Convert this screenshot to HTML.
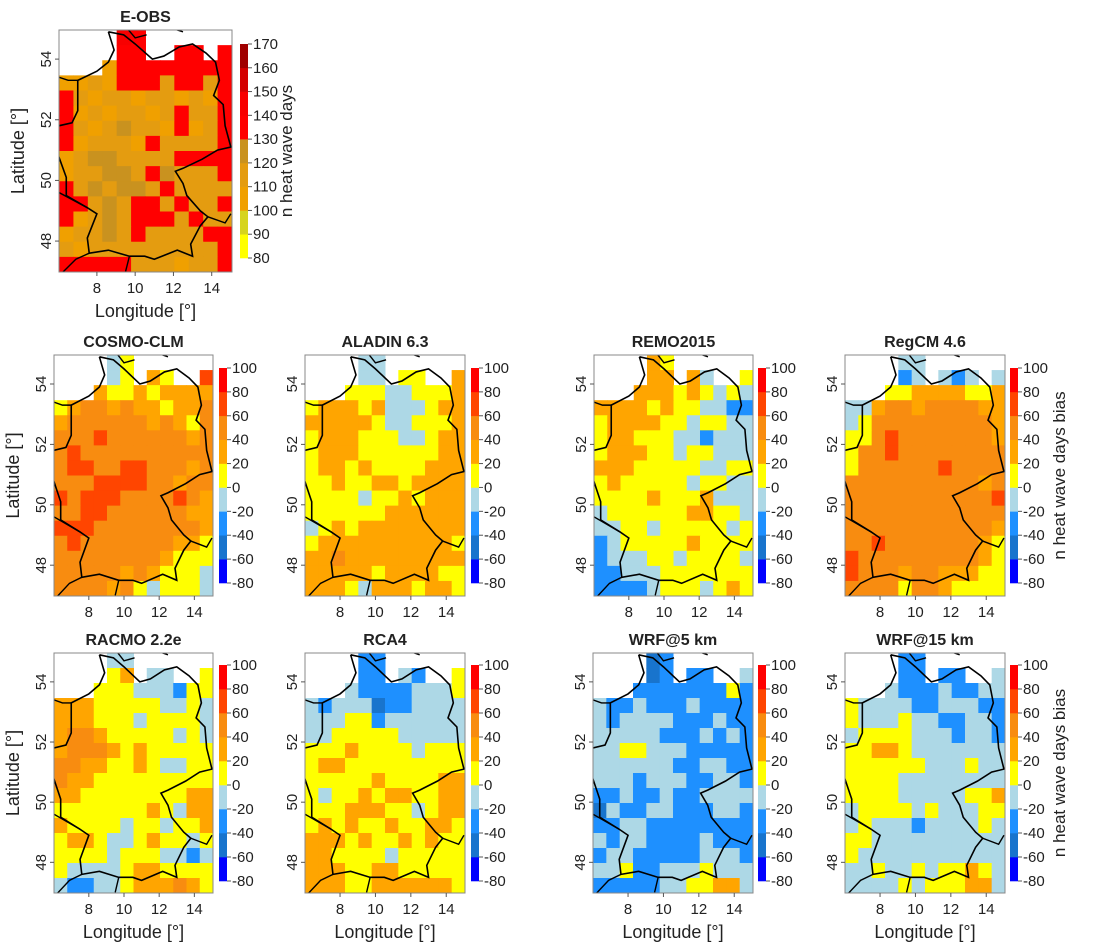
<!DOCTYPE html>
<html><head><meta charset="utf-8"><style>
body{margin:0;background:#fff;width:1116px;height:952px;overflow:hidden}
svg{display:block}
text{font-family:"Liberation Sans",sans-serif;fill:#222}
</style></head><body>
<svg id="fig" width="1116" height="952" xmlns="http://www.w3.org/2000/svg"></svg>
<script>
// Data: each string = one row of cells (north→south), 12 cols west→east; digits are bin classes, W = no data
const eobsRows=["WWWW65WWWWWW","WWWW55WW55W5","WWW255555555","223255535535","532332332325","523233235335","532343325235","523332533335","234433335555","233443543335","534344353333","553435535335","523435553533","233435333355","323333333335","555553332335"];
const cosmoRows=["WWWW34WWWWWW","WWWW34W54WW7","WWW544545555","456656554556","566666656546","666766666656","676666666666","677667766656","666777766566","767776666765","667766666655","777666666665","676666666554","666666665444","666665654443","666656434443"];
const aladinRows=["WWWW33WWWWWW","WWWW33W44WW5","WWW444334445","455545333455","555554334445","455544433455","455544444455","455454444555","445445545555","444434454555","444444555555","345455555555","455555555554","556555555555","555554555544","555435554554"];
const remoRows=["WWWW54WWWWWW","WWWW55W53WW4","WWW555454343","555545443322","455554434433","455444332333","455544344333","555444443344","454444434433","444454445333","344444455443","334434444434","234444454444","233344344443","223334444444","222234443454"];
const regcmRows=["WWWW33WWWWWW","WWWW23W323W3","WWW445555445","335665666655","346666666665","446766666665","466766666666","466666676666","666666666656","666666666667","666666666666","666666666665","667666666654","766666666654","766656655544","666646654444"];
const racmoRows=["WWWW33WWWWWW","WWWW45W33WW4","WWW444333244","555444443343","555444344443","566544444343","566654544444","665544543344","655444444444","554444444455","444444454355","544443443445","455433454434","444434443323","433334554444","322334555654"];
const rca4Rows=["WWWW22WWWWWW","WWWW22W32WW4","WWW322223334","323331223333","333442333333","334444433333","444544443444","455444444444","444445444455","434454554455","444555443455","454544544554","555454454544","554444344444","555445544444","555445555554"];
const wrf5Rows=["WWWW12WWWWWW","WWWW12W22WW3","WWW222222242","322322232222","323333222322","333332223232","334433322222","333333223322","333233322332","223223223333","132233222332","223322222222","323322223222","233222223332","334223334333","222223344553"];
const wrf15Rows=["WWWW22WWWWWW","WWWW22W22WW3","WWW322232233","433332233322","433343322332","344443332332","445543333333","444444333433","444433333333","444433333445","344443433344","343332333343","443333333333","433333333333","334334344543","333343444553"];
const eobsTicks=[80,90,100,110,120,130,140,150,160,170];
const biasTicks=[-80,-60,-40,-20,0,20,40,60,80,100];
const lonTicks=[8,10,12,14];
const latTicks=[48,50,52,54];
const eobsColors=['#ffff00','#d6d41e','#f0a000','#e49c10','#c9921f','#ff0000','#f80000','#d40000','#a00000'];
const biasColors=['#0000ff','#1874cd','#1e90ff','#add8e6','#ffff00','#ffa500','#f88c10','#ff4500','#ff0000'];
const outline=[[8.6,54.9],[9.4,54.8],[10.0,54.5],[10.9,54.0],[11.5,54.1],[12.3,54.4],[13.0,54.5],[13.7,54.2],[14.2,53.9],[14.4,53.3],[14.1,52.8],[14.6,52.5],[14.7,51.8],[15.0,51.1],[14.3,51.0],[13.5,50.7],[12.5,50.4],[12.1,50.3],[12.5,49.9],[12.7,49.5],[13.4,49.0],[13.8,48.8],[13.4,48.5],[12.9,47.9],[13.0,47.5],[12.2,47.7],[11.0,47.4],[10.5,47.5],[9.7,47.5],[8.6,47.7],[7.6,47.6],[7.5,48.1],[8.0,48.9],[7.5,49.1],[6.4,49.5],[6.4,50.1],[6.0,50.8],[6.0,51.8],[6.7,51.9],[7.0,52.3],[7.0,53.3],[8.0,53.6],[8.6,53.9],[8.9,54.3],[8.6,54.9]];
const extraLines=[[[7.6,47.6],[6.9,47.4],[6.1,46.9]],[[13.8,48.8],[14.7,48.6],[15.0,48.9]],[[9.7,47.5],[9.5,47.0]],[[7.5,49.1],[6.02,49.6]],[[6.02,53.4],[6.5,53.3],[7.0,53.3]],[[9.6,55.0],[10.0,54.7],[10.6,54.8]],[[12.0,55.0],[12.5,54.9]]];

const svg=document.getElementById('fig');
const NS='http://www.w3.org/2000/svg';
function mk(tag,attrs,parent,txt){const e=document.createElementNS(NS,tag);for(const k in attrs)e.setAttribute(k,attrs[k]);if(txt!==undefined)e.textContent=txt;(parent||svg).appendChild(e);return e;}
function toValues(rows,eobs){return rows.map(r=>r.split('').map(c=>c==='W'?null:(eobs?85+10*+c:-70+20*+c)));}
function colorFor(v,ticks,cols){for(let i=0;i<cols.length;i++){if(v>=ticks[i]&&v<ticks[i+1])return cols[i];}return cols[cols.length-1];}

const panels=[
 {name:'e-obs',title:'E-OBS',rows:eobsRows,eobs:true,x:59,y:30,w:173,h:242,cbx:240,cby:44,cbh:214,lat:true,lon:true,legend:'n heat wave days'},
 {name:'cosmo-clm',title:'COSMO-CLM',rows:cosmoRows,x:54,y:355,w:159,h:241,cbx:219,cby:368,cbh:215,lat:true},
 {name:'aladin',title:'ALADIN 6.3',rows:aladinRows,x:305,y:355,w:160,h:241,cbx:471,cby:368,cbh:215},
 {name:'remo2015',title:'REMO2015',rows:remoRows,x:594,y:355,w:159,h:241,cbx:758,cby:368,cbh:215},
 {name:'regcm',title:'RegCM 4.6',rows:regcmRows,x:845,y:355,w:160,h:241,cbx:1010,cby:368,cbh:215,legend:'n heat wave days  bias'},
 {name:'racmo',title:'RACMO 2.2e',rows:racmoRows,x:54,y:653,w:159,h:240,cbx:219,cby:665,cbh:216,lat:true,lon:true},
 {name:'rca4',title:'RCA4',rows:rca4Rows,x:305,y:653,w:160,h:240,cbx:471,cby:665,cbh:216,lon:true},
 {name:'wrf-5km',title:'WRF@5 km',rows:wrf5Rows,x:593,y:653,w:160,h:240,cbx:758,cby:665,cbh:216,lon:true},
 {name:'wrf-15km',title:'WRF@15 km',rows:wrf15Rows,x:845,y:653,w:160,h:240,cbx:1010,cby:665,cbh:216,lon:true,legend:'n heat wave days  bias'}
];

panels.forEach(p=>{
 const g=mk('g',{});
 
 
 const X=lon=>p.x+(lon-6.02)/9.04*p.w;
 const Y=lat=>p.y+(54.96-lat)/7.98*p.h;
 const vals=toValues(p.rows,p.eobs);
 const ticks=p.eobs?eobsTicks:biasTicks, cols=p.eobs?eobsColors:biasColors;
 const nr=vals.length, nc=vals[0].length;
 const cg=mk('g',{'clip-path':'url(#clip-'+p.name+')'},g);
 const cp=mk('clipPath',{id:'clip-'+p.name},g);mk('rect',{x:p.x,y:p.y,width:p.w,height:p.h},cp);
 vals.forEach((row,i)=>row.forEach((v,j)=>{
  if(v===null)return;
  const lon0=6.02+j*9.04/nc, lat0=54.96-i*7.98/nr;
  const r=mk('rect',{x:X(lon0).toFixed(2),y:Y(lat0).toFixed(2),width:(p.w/nc+0.5).toFixed(2),height:(p.h/nr+0.5).toFixed(2),fill:colorFor(v,ticks,cols)},cg);
  
  
 }));
 const ol=mk('polyline',{points:outline.map(q=>X(q[0])+','+Y(q[1])).join(' '),fill:'none',stroke:'#000','stroke-width':1.6},cg);
 
 
 extraLines.forEach(l=>mk('polyline',{points:l.map(q=>X(q[0])+','+Y(q[1])).join(' '),fill:'none',stroke:'#000','stroke-width':1.4},cg));
 const fr=mk('rect',{x:p.x,y:p.y,width:p.w,height:p.h,fill:'none',stroke:'#888','stroke-width':1},g);
 
 
 const t=mk('text',{x:p.x+p.w/2,y:p.y-8,'text-anchor':'middle','font-size':16,'font-weight':'bold'},g,p.title);
 
 
 lonTicks.forEach(l=>{mk('line',{x1:X(l),x2:X(l),y1:p.y+p.h,y2:p.y+p.h+4,stroke:'#555'},g);
  const tl=mk('text',{x:X(l),y:p.y+p.h+21,'text-anchor':'middle','font-size':15},g,String(l));
  
  });
 latTicks.forEach(l=>{mk('line',{x1:p.x-4,x2:p.x,y1:Y(l),y2:Y(l),stroke:'#555'},g);
  const tl=mk('text',{x:p.x-8,y:Y(l),'text-anchor':'middle','font-size':15,transform:'rotate(-90 '+(p.x-8)+' '+Y(l)+')'},g,String(l));
  
  });
 if(p.lat){const cy=p.y+p.h/2,cx=p.x-35;const a=mk('text',{x:cx,y:cy,'text-anchor':'middle','font-size':18,transform:'rotate(-90 '+cx+' '+cy+')'},g,'Latitude [°]');
  
  }
 if(p.lon){const a=mk('text',{x:p.x+p.w/2,y:p.y+p.h+45,'text-anchor':'middle','font-size':18},g,'Longitude [°]');
  
  }
 const nb=cols.length, bh=p.cbh/nb;
 cols.forEach((c,k)=>{const r=mk('rect',{x:p.cbx,y:p.cby+p.cbh-(k+1)*bh,width:8,height:bh+0.3,fill:c},g);
  
  });
 ticks.forEach((tv,k)=>{const yy=p.cby+p.cbh-k*bh;mk('line',{x1:p.cbx+8,x2:p.cbx+12,y1:yy,y2:yy,stroke:'#555'},g);
  const tl=mk('text',{x:p.cbx+13,y:yy+5,'font-size':15},g,String(tv));
  
  });
 if(p.legend){const cx=p.eobs?p.cbx+52:p.cbx+55,cy=p.cby+p.cbh/2;
  const a=mk('text',{x:cx,y:cy,'text-anchor':'middle','font-size':17,transform:'rotate(-90 '+cx+' '+cy+')'},g,p.legend);
  
  }
});
</script>
</body></html>
